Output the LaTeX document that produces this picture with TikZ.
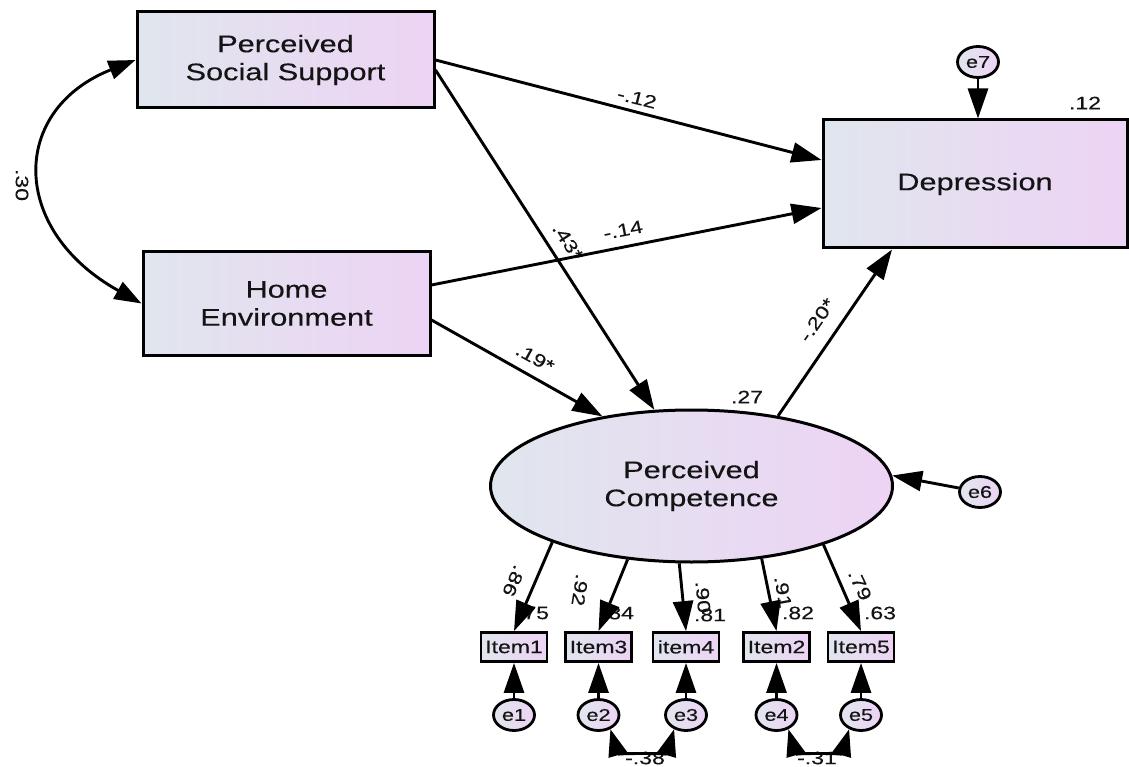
\documentclass[tikz,border=0pt]{standalone}
\usepackage{fontspec}
\setmainfont{Liberation Sans}[FakeStretch=1.28,FakeBold=0.3]
\usetikzlibrary{arrows.meta,shapes.geometric}
\definecolor{gL}{RGB}{224,230,238}
\definecolor{gR}{RGB}{237,211,244}
\definecolor{txt}{RGB}{20,20,20}
\tikzset{
  shade/.style={left color=gL, right color=gR},
  box/.style={rectangle, draw=black, line width=3pt, shade, align=center, inner sep=0pt, text=txt, font=\fontsize{24}{28}\selectfont},
  lat/.style={ellipse, draw=black, line width=3pt, shade, align=center, inner sep=0pt, text=txt, font=\fontsize{24}{28}\selectfont},
  err/.style={ellipse, draw=black, line width=2.8pt, shade, inner sep=0pt, minimum width=41pt, minimum height=31pt, text=txt, font=\fontsize{17}{17}\selectfont},
  itembox/.style={rectangle, draw=black, line width=2.8pt, shade, inner sep=0pt, minimum width=66pt, minimum height=29pt, text=txt, font=\fontsize{18}{18}\selectfont},
  reg/.style={line width=2.9pt, -{Triangle[length=30pt,width=20pt]}},
  cov/.style={line width=2.9pt, {Triangle[length=27pt,width=19pt]}-{Triangle[length=27pt,width=19pt]}},
  lab/.style={inner sep=0pt, text=txt, font=\fontsize{18}{18}\selectfont},
}
\begin{document}
\begin{tikzpicture}[x=1pt,y=-1pt]
\useasboundingbox (0,0) rectangle (1129,767);
% labels first (arrows drawn over them)
\node[lab, rotate=-14] (l12) at (637,98) {-.12};
\node[lab, rotate=11] (l14) at (623,230) {-.14};
\node[lab, rotate=-56.6] (l43) at (568,242) {.43*};
\node[lab, rotate=-29] (l19) at (535,358) {.19*};
\node[lab, rotate=55] (l20) at (817,320) {-.20*};
\node[lab] (r27) at (747,397) {.27};
\node[lab] (r12) at (1085,103) {.12};
\node[lab, rotate=-90] (c30) at (22,185) {.30};
\node[lab, rotate=-114.6] (l86) at (514,581) {.86};
\node[lab, rotate=-99] (l92) at (580,590) {.92};
\node[lab, rotate=-85] (l90) at (703,597) {.90};
\node[lab, rotate=-80] (l91) at (783,592) {.91};
\node[lab, rotate=-64.8] (l79) at (860,585) {.79};
\node[lab] (r75) at (533,613) {.75};
\node[lab] (r84) at (618,613) {.84};
\node[lab] (r81) at (710,615) {.81};
\node[lab] (r82) at (798,613) {.82};
\node[lab] (r63) at (880,613) {.63};
\node[lab] (c38) at (645,758) {-.38};
\node[lab] (c31) at (817,758) {-.31};
% nodes
\node[box, minimum width=297pt, minimum height=96pt] (pss) at (285.5,60) {Perceived\\Social Support};
\node[box, minimum width=287pt, minimum height=103pt] (he) at (286.5,303.5) {Home\\Environment};
\node[box, minimum width=304pt, minimum height=128pt] (dep) at (975,184) {Depression};
\node[lat, minimum width=402pt, minimum height=152pt] (pc) at (691.5,486) {Perceived\\Competence};
\node[err] (e7) at (978,62) {e7};
\node[err] (e6) at (980,492) {e6};
\node[itembox] (item1) at (514,647) {Item1};
\node[itembox] (item3) at (598.5,647) {Item3};
\node[itembox] (item4) at (686,647) {item4};
\node[itembox] (item2) at (776.5,647) {Item2};
\node[itembox] (item5) at (861,647) {Item5};
\node[err] (e1) at (514,715) {e1};
\node[err] (e2) at (598.5,715) {e2};
\node[err] (e3) at (686,715) {e3};
\node[err] (e4) at (776.5,715) {e4};
\node[err] (e5) at (861,715) {e5};
% regressions
\draw[reg] (pss.east) -- ([yshift=24pt]dep.west);
\draw[reg] ([yshift=-10pt]pss.east) -- (pc.116);
\draw[reg] ([yshift=18.5pt]he.east) -- ([yshift=-24pt]dep.west);
\draw[reg] ([yshift=-16.5pt]he.east) -- (pc.142.8);
\draw[reg] (pc.39.6) -- ([xshift=-83pt]dep.south);
\draw[reg] (e7) -- (e7 |- dep.north);
\draw[reg] (e6) -- (pc.3);
% loadings
\draw[reg] (pc.-158.6) -- (item1.north);
\draw[reg] (pc.-131.3) -- (item3.north);
\draw[reg] (pc.-99.4) -- (item4.north);
\draw[reg] (pc.-46.7) -- (item2.north);
\draw[reg] (pc.-24.4) -- (item5.north);
% errors
\draw[reg] (e1) -- (item1.south);
\draw[reg] (e2) -- (item3.south);
\draw[reg] (e3) -- (item4.south);
\draw[reg] (e4) -- (item2.south);
\draw[reg] (e5) -- (item5.south);
% covariances
\draw[cov] (pss.west) .. controls (9.5,110) and (9.5,230) .. (he.west);
\draw[cov] (e2.-50) .. controls +(7,24) and +(-7,24) .. (e3.-130);
\draw[cov] (e4.-50) .. controls +(7,24) and +(-7,24) .. (e5.-130);
\end{tikzpicture}
\end{document}
